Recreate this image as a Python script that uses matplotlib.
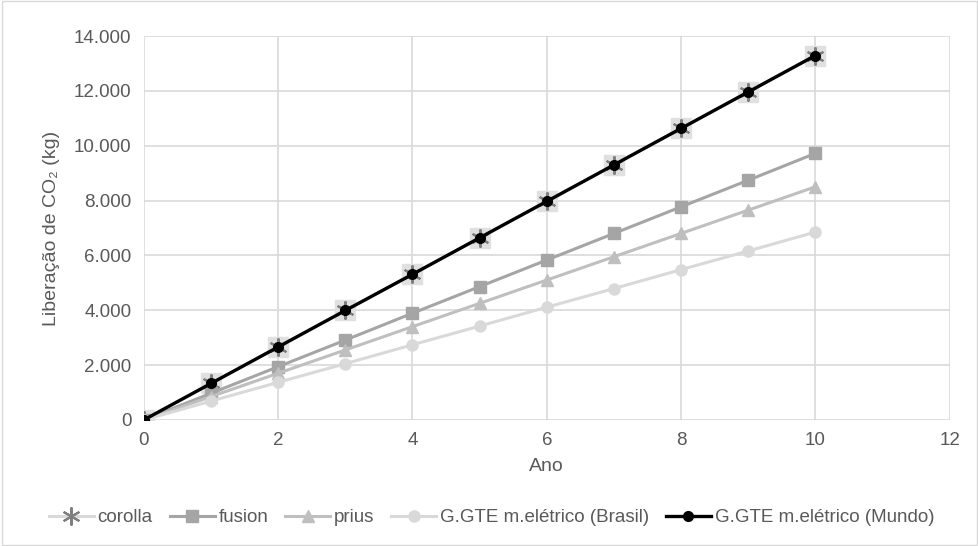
import matplotlib
matplotlib.use("Agg")
import matplotlib.pyplot as plt
from matplotlib.ticker import FuncFormatter

anos = [0, 1, 2, 3, 4, 5, 6, 7, 8, 9, 10]
corolla = [0, 1330, 2660, 3990, 5310, 6640, 7970, 9300, 10630, 11960, 13290]
fusion = [0, 970, 1940, 2910, 3890, 4860, 5830, 6800, 7770, 8740, 9720]
prius = [0, 850, 1700, 2550, 3400, 4250, 5100, 5950, 6800, 7650, 8500]
gte_brasil = [0, 685, 1370, 2050, 2740, 3420, 4110, 4790, 5480, 6160, 6850]
gte_mundo = [0, 1330, 2660, 3990, 5310, 6640, 7970, 9300, 10630, 11960, 13290]

plt.rcParams['font.family'] = ['Liberation Sans', 'DejaVu Sans']
txt = '#595959'

fig = plt.figure(figsize=(9.79, 5.46), dpi=100)
ax = fig.add_axes([0.147, 0.231, 0.823, 0.703])

# fundo quadrado claro dos marcadores do corolla (estilo Excel)
ax.plot(anos, corolla, ls='none', marker='s', ms=14, mfc='#e0e0e0', mec='#e0e0e0', zorder=3)
ax.plot(anos, corolla, color='#d9d9d9', lw=2.2, marker=(6, 2, 0), ms=13,
        mec='#7f7f7f', mew=1.5, label='corolla', zorder=3)
ax.plot(anos, fusion, color='#a5a5a5', lw=2.2, marker='s', ms=8,
        mfc='#a5a5a5', mec='#a5a5a5', label='fusion', zorder=3)
ax.plot(anos, prius, color='#bfbfbf', lw=2.2, marker='^', ms=8,
        mfc='#bfbfbf', mec='#bfbfbf', label='prius', zorder=3)
ax.plot(anos, gte_brasil, color='#d9d9d9', lw=2.2, marker='o', ms=8,
        mfc='#d9d9d9', mec='#d9d9d9', label='G.GTE m.elétrico (Brasil)', zorder=3)
ax.plot(anos, gte_mundo, color='black', lw=2.4, marker='o', ms=7,
        mfc='black', mec='black', label='G.GTE m.elétrico (Mundo)', zorder=4)

ax.set_xlim(0, 12)
ax.set_ylim(0, 14000)
ax.set_xticks(range(0, 13, 2))
ax.set_yticks(range(0, 14001, 2000))
ax.yaxis.set_major_formatter(FuncFormatter(lambda v, p: f"{int(v):,}".replace(",", ".")))
ax.grid(True, color='#d9d9d9', lw=1.2)
ax.set_axisbelow(True)
for s in ax.spines.values():
    s.set_visible(False)
ax.tick_params(length=0, labelsize=13.5, colors=txt, pad=9)

ax.set_xlabel('Ano', fontsize=14, color=txt, labelpad=6)
ax.set_ylabel('Liberação de CO₂ (kg)', fontsize=14, color=txt, labelpad=10)

leg = fig.legend(loc='center', bbox_to_anchor=(0.502, 0.052), ncol=5, frameon=False,
                 fontsize=13.5, handlelength=2.4, handletextpad=0.2, columnspacing=0.9)
for t in leg.get_texts():
    t.set_color(txt)

fig.patches.append(plt.Rectangle((0.002, 0.002), 0.996, 0.996, transform=fig.transFigure,
                                 fill=False, edgecolor='#d9d9d9', lw=1))
fig.savefig('out.png', dpi=100)
